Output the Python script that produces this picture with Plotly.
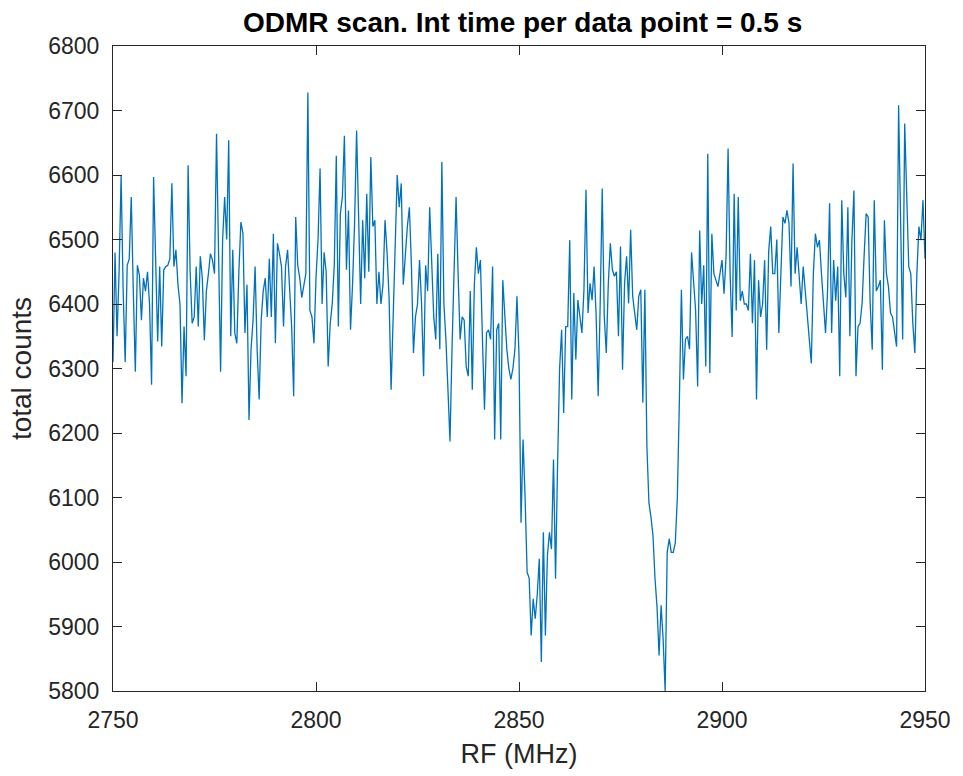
import numpy as np
import plotly.graph_objects as go

# RF sweep 2750-2950 MHz, 0.5 MHz step (401 points)
freq_start = 2750
freq_stop = 2950

counts = [
    6310, 6480, 6350, 6450, 6600, 6420, 6310, 6460, 6470, 6566,
    6420, 6295, 6460, 6445, 6375, 6440, 6420, 6450, 6400, 6275,
    6597, 6450, 6342, 6458, 6334, 6453, 6458, 6460, 6470, 6587,
    6458, 6484, 6430, 6400, 6246, 6365, 6288, 6615, 6450, 6370,
    6380, 6458, 6365, 6474, 6440, 6344, 6420, 6447, 6478, 6468,
    6447, 6664, 6450, 6295, 6500, 6566, 6500, 6654, 6350, 6484,
    6355, 6339, 6450, 6527, 6510, 6355, 6430, 6220, 6330, 6375,
    6458, 6330, 6252, 6375, 6420, 6440, 6380, 6470, 6380, 6509,
    6339, 6494, 6478, 6458, 6365, 6458, 6484, 6420, 6365, 6257,
    6535, 6460, 6440, 6410, 6430, 6447, 6728, 6390, 6380, 6339,
    6440, 6500, 6610, 6400, 6480, 6450, 6303, 6370, 6400, 6460,
    6630, 6365, 6540, 6566, 6661, 6453, 6545, 6360, 6430, 6525,
    6669, 6530, 6400, 6530, 6440, 6571, 6450, 6628, 6520, 6530,
    6400, 6450, 6400, 6430, 6530, 6480, 6410, 6267, 6390, 6470,
    6600, 6550, 6587, 6430, 6480, 6520, 6550, 6460, 6324, 6380,
    6400, 6468, 6400, 6288, 6460, 6420, 6550, 6447, 6380, 6345,
    6478, 6330, 6620, 6400, 6345, 6267, 6187, 6330, 6450, 6566,
    6447, 6345, 6380, 6375, 6303, 6288, 6420, 6267, 6430, 6488,
    6447, 6468, 6345, 6236, 6355, 6360, 6345, 6458, 6190, 6360,
    6370, 6190, 6437, 6380, 6330, 6300, 6283, 6300, 6330, 6412,
    6320, 6061, 6190, 6100, 5984, 5975, 5886, 5943, 5912, 5950,
    6005, 5845, 6046, 5886, 6010, 6046, 6020, 6159, 5974, 6150,
    6300, 6360, 6231, 6365, 6365, 6499, 6252, 6417, 6314, 6406,
    6380, 6355, 6422, 6577, 6386, 6432, 6406, 6458, 6381, 6257,
    6400, 6579, 6381, 6324, 6432, 6494, 6453, 6443, 6450, 6350,
    6489, 6298, 6432, 6474, 6401, 6515, 6412, 6381, 6360, 6412,
    6422, 6247, 6422, 6180, 6092, 6070, 6041, 5974, 5930, 5855,
    5933, 5880, 5800, 6015, 6036, 6015, 6015, 6030, 6100, 6250,
    6422, 6283, 6345, 6350, 6330, 6480, 6430, 6390, 6272, 6514,
    6400, 6460, 6303, 6633, 6293, 6509, 6447, 6437, 6427, 6447,
    6468, 6416, 6473, 6641, 6447, 6349, 6571, 6390, 6566, 6405,
    6420, 6400, 6400, 6390, 6478, 6370, 6468, 6252, 6437, 6380,
    6400, 6468, 6329, 6482, 6520, 6447, 6447, 6500, 6355, 6447,
    6535, 6525, 6545, 6525, 6427, 6618, 6447, 6488, 6447, 6400,
    6458, 6420, 6370, 6340, 6308, 6447, 6509, 6488, 6499, 6447,
    6400, 6355, 6420, 6556, 6355, 6468, 6405, 6458, 6288, 6561,
    6447, 6410, 6550, 6350, 6500, 6576, 6288, 6365, 6370, 6400,
    6474, 6540, 6535, 6400, 6329, 6561, 6420, 6427, 6437, 6298,
    6530, 6447, 6427, 6386, 6380, 6355, 6334, 6708, 6550, 6345,
    6680, 6550, 6458, 6447, 6370, 6324, 6447, 6520, 6499, 6561,
    6470,
]

x_ticks = [2750, 2800, 2850, 2900, 2950]
y_ticks = [5800, 5900, 6000, 6100, 6200, 6300, 6400, 6500, 6600, 6700, 6800]

title_text = "ODMR scan. Int time per data point = 0.5 s"
x_title = "RF (MHz)"
y_title = "total counts"

freq = np.linspace(freq_start, freq_stop, len(counts))

FONT = "Liberation Sans, Arial, Helvetica, sans-serif"
AX = "#262626"

fig = go.Figure()
fig.add_trace(go.Scatter(
    x=freq, y=counts, mode="lines",
    line=dict(color="#0072BD", width=1.3),
    showlegend=False, hoverinfo="skip",
))

axis_common = dict(
    showgrid=False, zeroline=False, showline=True, linecolor=AX, linewidth=1.2,
    mirror="ticks", ticks="inside", ticklen=9, tickwidth=1.2, tickcolor=AX,
    tickfont=dict(family=FONT, size=23, color=AX),
)

fig.update_layout(
    width=963, height=776,
    margin=dict(l=113, r=30, t=46, b=83),
    paper_bgcolor="white", plot_bgcolor="white",
    title=dict(text="<b>" + title_text + "</b>", x=0.5427, xanchor="center",
               y=0.972, yanchor="middle",
               font=dict(family=FONT, size=28, color="black")),
    xaxis=dict(range=[freq_start, freq_stop], tickvals=x_ticks,
               ticklabelstandoff=8,
               title=dict(text=x_title, font=dict(family=FONT, size=27, color=AX), standoff=12),
               **axis_common),
    yaxis=dict(range=[5800, 6800], tickvals=y_ticks,
               ticklabelstandoff=8,
               title=dict(text=y_title, font=dict(family=FONT, size=28, color=AX), standoff=8),
               **axis_common),
)

fig.write_html("out.html")
